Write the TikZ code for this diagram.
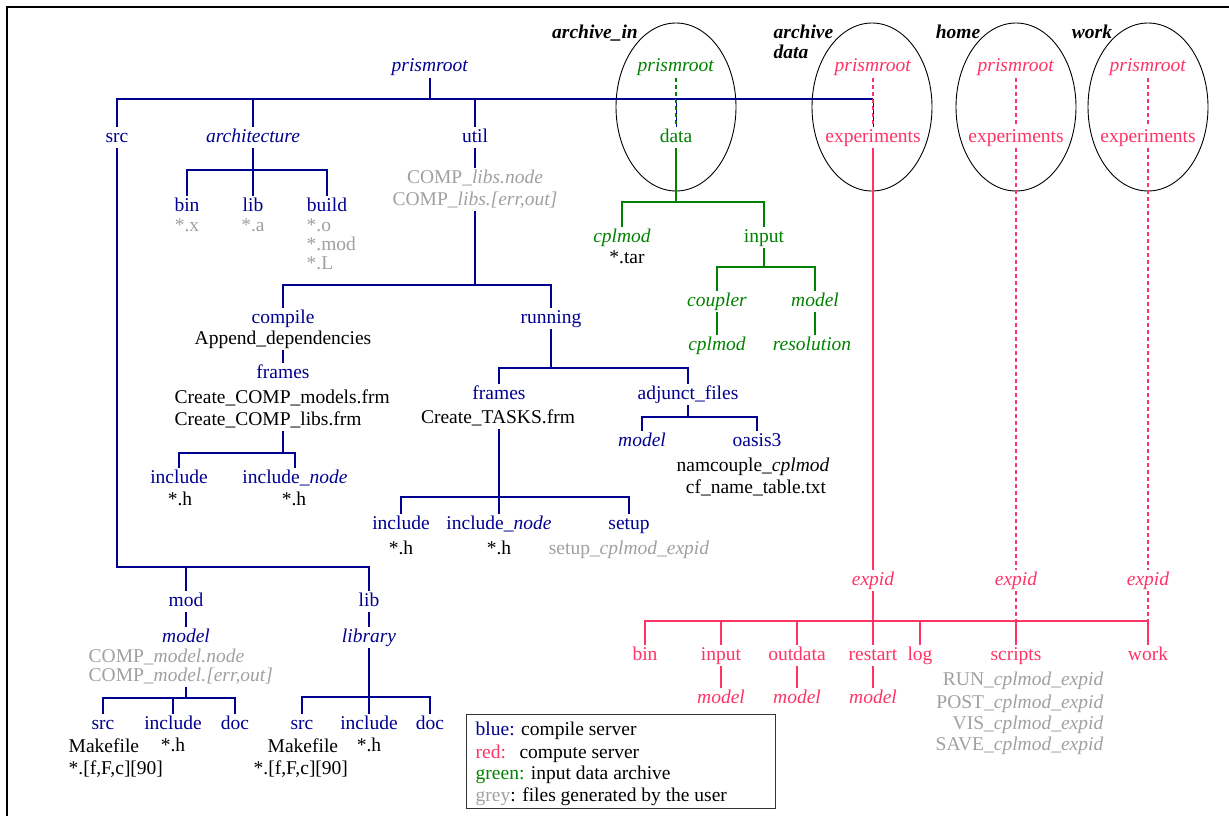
\documentclass[tikz,border=0pt]{standalone}
\usepackage{fontspec}
\setmainfont{Liberation Serif}
\definecolor{cblue}{RGB}{0,0,145}
\definecolor{cgreen}{RGB}{0,130,0}
\definecolor{cred}{RGB}{255,51,102}
\definecolor{cgrey}{RGB}{160,160,160}
\begin{document}
\begin{tikzpicture}[x=1pt,y=-1pt,
  every node/.style={font=\fontsize{19.5}{22}\selectfont, inner sep=1.5pt, text height=13.5pt, text depth=4.5pt, yshift=-1.5pt},
  B/.style={text=cblue}, G/.style={text=cgreen}, R/.style={text=cred},
  Y/.style={text=cgrey}, K/.style={text=black},
  bline/.style={draw=cblue, line width=1.5pt},
  gline/.style={draw=cgreen, line width=1.5pt},
  rline/.style={draw=cred, line width=1.5pt},
  gdash/.style={gline, dash pattern=on 4pt off 3pt},
  rdash/.style={rline, dash pattern=on 4pt off 3pt},
  bdash/.style={draw=cblue, line width=0.8pt, dash pattern=on 4pt off 3pt, dash phase=3.5pt},
  ell/.style={draw=black, line width=0.9pt}]
\useasboundingbox (0,0) rectangle (1229,816);
\draw[line width=2pt] (7,830) -- (7,7) -- (1240,7);
% ellipses
\draw[ell] (676,107) ellipse [x radius=60, y radius=84];
\draw[ell] (872,107) ellipse [x radius=60, y radius=84];
\draw[ell] (1016,107) ellipse [x radius=60, y radius=84];
\draw[ell] (1148,107) ellipse [x radius=60, y radius=84];
% black labels
\node[K] (lai) at (595,33) {\textbf{\textit{archive\_in}}};
\node[K,anchor=west] (lad1) at (772,33) {\textbf{\textit{archive}}};
\node[K,anchor=west] (lad2) at (772,53) {\textbf{\textit{data}}};
\node[K] (lhome) at (958,33) {\textbf{\textit{home}}};
\node[K] (lwork) at (1092,33) {\textbf{\textit{work}}};
% blue tree
\node[B] (root) at (430,66) {\textit{prismroot}};
\node[B] (src) at (117,136) {src};
\node[B] (arch) at (253,136) {\textit{architecture}};
\node[B] (util) at (475,136) {util};
\node[B] (bin) at (187,205) {bin};
\node[B] (lib1) at (253,205) {lib};
\node[B] (build) at (327,205) {build};
\node[Y] (bx) at (187,225) {*.x};
\node[Y] (ba) at (253,225) {*.a};
\node[Y,anchor=west] (bo) at (305,225) {*.o};
\node[Y,anchor=west] (bmod) at (305,244) {*.mod};
\node[Y,anchor=west] (bL) at (305,263) {*.L};
\node[Y] (cl1) at (475,177) {COMP\_\textit{libs.node}};
\node[Y] (cl2) at (475,199) {COMP\_\textit{libs.[err,out]}};
\node[B] (compile) at (283,317) {compile};
\node[K] (append) at (283,338) {Append\_dependencies};
\node[B] (frA) at (283,372) {frames};
\node[K,anchor=west] (cm1) at (173,397) {Create\_COMP\_models.frm};
\node[K,anchor=west] (cm2) at (173,419) {Create\_COMP\_libs.frm};
\node[B] (incA) at (179,477) {include};
\node[B] (incnA) at (295,477) {include\_\textit{node}};
\node[K] (hA) at (180,499) {*.h};
\node[K] (hnA) at (294,499) {*.h};
\node[B] (running) at (551,317) {running};
\node[B] (frB) at (499,393) {frames};
\node[K] (tasks) at (498,417) {Create\_TASKS.frm};
\node[B] (incB) at (401,523) {include};
\node[B] (incnB) at (499,523) {include\_\textit{node}};
\node[B] (setup) at (629,523) {setup};
\node[K] (hB) at (401,548) {*.h};
\node[K] (hnB) at (499,548) {*.h};
\node[Y] (setupf) at (629,548) {setup\_\textit{cplmod\_expid}};
\node[B] (adj) at (688,393) {adjunct\_files};
\node[B] (amodel) at (642,440) {\textit{model}};
\node[B] (oasis) at (757,440) {oasis3};
\node[K] (nam) at (753,465) {namcouple\_\textit{cplmod}};
\node[K] (cf) at (756,487) {cf\_name\_table.txt};
\node[B] (mod) at (186,600) {mod};
\node[B] (model) at (186,636) {\textit{model}};
\node[Y,anchor=west] (cmA) at (87,656) {COMP\_\textit{model.node}};
\node[Y,anchor=west] (cmB) at (87,675) {COMP\_\textit{model.[err,out]}};
\node[B] (srcC) at (103,723) {src};
\node[B] (incC) at (173,723) {include};
\node[B] (docC) at (235,723) {doc};
\node[K,anchor=west] (mkC) at (67,746) {Makefile};
\node[K] (hC) at (173,745) {*.h};
\node[K,anchor=west] (fC) at (67,768) {*.[f,F,c][90]};
\node[B] (lib2) at (369,600) {lib};
\node[B] (library) at (369,636) {\textit{library}};
\node[B] (srcD) at (302,723) {src};
\node[B] (incD) at (369,723) {include};
\node[B] (docD) at (430,723) {doc};
\node[K,anchor=west] (mkD) at (266,746) {Makefile};
\node[K] (hD) at (369,745) {*.h};
\node[K,anchor=west] (fD) at (252,768) {*.[f,F,c][90]};
% green tree
\node[G] (gp) at (676,66) {\textit{prismroot}};
\node[G] (data) at (676,136) {data};
\node[G] (gcpl1) at (622,236) {\textit{cplmod}};
\node[K] (tar) at (627,257) {*.tar};
\node[G] (input) at (764,236) {input};
\node[G] (coupler) at (717,300) {\textit{coupler}};
\node[G] (gmodel) at (815,300) {\textit{model}};
\node[G] (gcpl2) at (717,344) {\textit{cplmod}};
\node[G] (res) at (812,344) {\textit{resolution}};
% red tree
\node[R] (rp1) at (873,66) {\textit{prismroot}};
\node[R] (rp2) at (1016,66) {\textit{prismroot}};
\node[R] (rp3) at (1148,66) {\textit{prismroot}};
\node[R] (ex1) at (873,136) {experiments};
\node[R] (ex2) at (1016,136) {experiments};
\node[R] (ex3) at (1148,136) {experiments};
\node[R] (xp1) at (873,579) {\textit{expid}};
\node[R] (xp2) at (1016,579) {\textit{expid}};
\node[R] (xp3) at (1148,579) {\textit{expid}};
\node[R] (rbin) at (645,654) {bin};
\node[R] (rinput) at (721,654) {input};
\node[R] (rout) at (797,654) {outdata};
\node[R] (rrest) at (873,654) {restart};
\node[R] (rlog) at (920,654) {log};
\node[R] (rscr) at (1016,654) {scripts};
\node[R] (rwork) at (1148,654) {work};
\node[R] (rm1) at (721,697) {\textit{model}};
\node[R] (rm2) at (797,697) {\textit{model}};
\node[R] (rm3) at (873,697) {\textit{model}};
\node[Y,anchor=east] (s1) at (1105,679) {RUN\_\textit{cplmod\_expid}};
\node[Y,anchor=east] (s2) at (1105,702) {POST\_\textit{cplmod\_expid}};
\node[Y,anchor=east] (s3) at (1105,723) {VIS\_\textit{cplmod\_expid}};
\node[Y,anchor=east] (s4) at (1105,744) {SAVE\_\textit{cplmod\_expid}};
% legend
\draw[line width=0.9pt, draw=black!80] (466,714) rectangle (775,808);
\node[K,anchor=west] (lg1) at (474,729) {\textcolor{cblue}{blue:} compile server};
\node[K,anchor=west] (lg2) at (474,752) {\rlap{\textcolor{cred}{red:}}\phantom{blue:} compute server};
\node[K,anchor=west] (lg3) at (474,773) {\textcolor{cgreen}{green:} input data archive};
\node[K,anchor=west] (lg4) at (474,795) {\textcolor{cgrey}{grey}: files generated by the user};
% ---- blue connectors
\draw[bline] (root.south) -- (root |- 0,99);
\draw[bline] (src.north) |- (ex1 |- 0,99);
\draw[bline] (arch.north) -- (arch |- 0,99);
\draw[bline] (util.north) -- (util |- 0,99);
\draw[bline] (arch.south) -- (arch |- 0,170);
\draw[bline] (bin.north) |- (build.north |- 0,170) -- (build.north);
\draw[bline] (lib1.north) -- (lib1 |- 0,170);
\draw[bline] (util.south) -- (cl1.north);
\draw[bline] (cl2.south) -- (util |- 0,285);
\draw[bline] (compile.north) |- (running.north |- 0,285) -- (running.north);
\draw[bline] (append.south) -- (frA.north);
\draw[bline] (frA |- cm2.south) -- (frA |- 0,453);
\draw[bline] (incA.north) |- (incnA.north |- 0,453) -- (incnA.north);
\draw[bline] (running.south) -- (running |- 0,368);
\draw[bline] (frB.north) |- (adj.north |- 0,368) -- (adj.north);
\draw[bline] (frB |- tasks.south) -- (frB |- 0,497);
\draw[bline] (incB.north) |- (setup.north |- 0,497) -- (setup.north);
\draw[bline] (incnB.north) -- (incnB |- 0,497);
\draw[bline] (adj.south) -- (adj |- 0,417);
\draw[bline] (amodel.north) |- (oasis.north |- 0,417) -- (oasis.north);
\draw[bline] (src.south) |- (lib2 |- 0,567) -- (lib2.north);
\draw[bline] (mod.north) -- (mod |- 0,567);
\draw[bline] (mod.south) -- (model.north);
\draw[bline] (model |- cmB.south) -- (model |- 0,698);
\draw[bline] (srcC.north) |- (docC.north |- 0,698) -- (docC.north);
\draw[bline] (incC.north) -- (incC |- 0,698);
\draw[bline] (lib2.south) -- (library.north);
\draw[bline] (library.south) -- (library |- 0,697);
\draw[bline] (srcD.north) |- (docD.north |- 0,697) -- (docD.north);
\draw[bline] (incD.north) -- (incD |- 0,697);
% ---- green connectors
\draw[gdash] (gp.south) -- (data.north);
\draw[bdash] (data |- 0,99) -- (data.north);
\draw[gline] (data.south) -- (data |- 0,202);
\draw[gline] (gcpl1.north) |- (input.north |- 0,202) -- (input.north);
\draw[gline] (input.south) -- (input |- 0,267);
\draw[gline] (coupler.north) |- (gmodel.north |- 0,267) -- (gmodel.north);
\draw[gline] (coupler.south) -- (gcpl2.north);
\draw[gline] (gmodel.south) -- (gmodel |- res.north);
% ---- red connectors
\draw[rdash] (rp1.south) -- (ex1.north);
\draw[bdash] (ex1 |- 0,99) -- (ex1.north);
\draw[rline] (ex1.south) -- (xp1.north);
\draw[rline] (xp1.south) -- (xp1 |- 0,621);
\draw[rdash] (rp2.south) -- (ex2.north);
\draw[rdash] (ex2.south) -- (xp2.north);
\draw[rdash] (xp2.south) -- (xp2 |- 0,621);
\draw[rdash] (rp3.south) -- (ex3.north);
\draw[rdash] (ex3.south) -- (xp3.north);
\draw[rdash] (xp3.south) -- (xp3 |- 0,621);
\draw[rline] (rbin.north) |- (rwork.north |- 0,621) -- (rwork.north);
\foreach \n in {rinput,rout,rrest,rlog,rscr} \draw[rline] (\n.north) -- (\n |- 0,621);
\draw[rline] (rinput.south) -- (rm1.north);
\draw[rline] (rout.south) -- (rm2.north);
\draw[rline] (rrest.south) -- (rm3.north);
\end{tikzpicture}
\end{document}
